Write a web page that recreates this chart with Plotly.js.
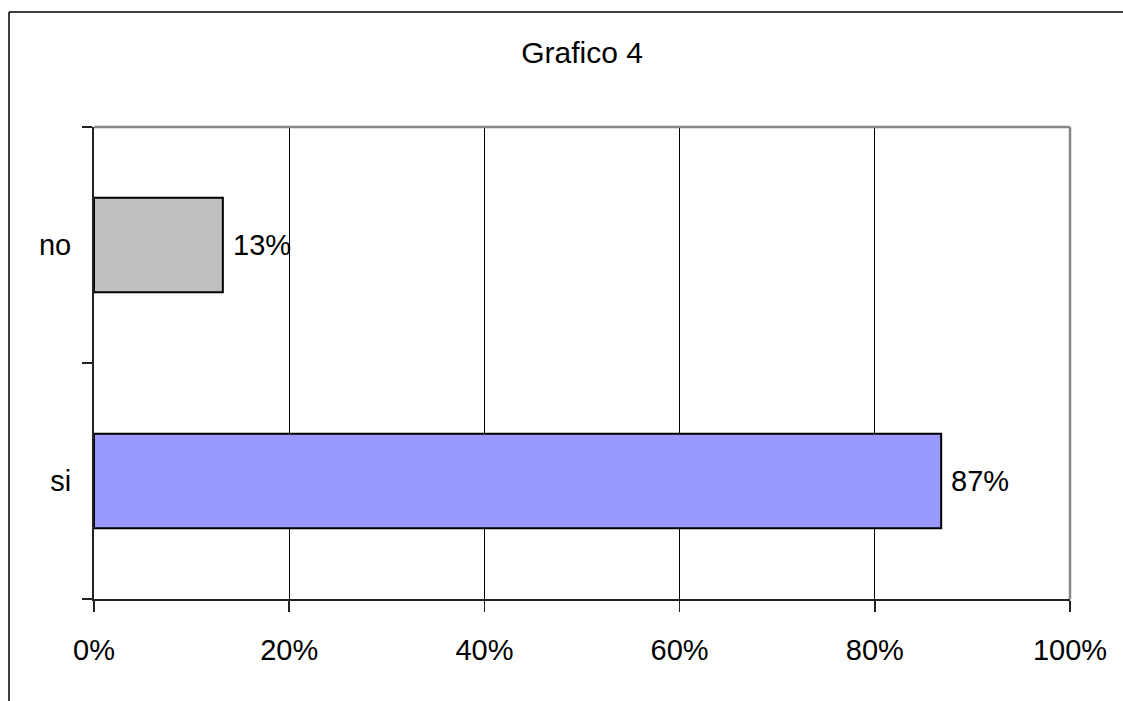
<!DOCTYPE html>
<html>
<head>
<meta charset="utf-8">
<script src="https://cdn.plot.ly/plotly-3.0.1.min.js"></script>
<style>
  html, body { margin: 0; padding: 0; background: #fff; }
  #chart { width: 1123px; height: 701px; }
</style>
</head>
<body>
<div id="chart"></div>
<script>
const categories = ["si", "no"];
const values = [0.868, 0.132];
const labels = ["87%", "13%"];
const barColors = ["#9999FF", "#C0C0C0"];
const xTicks = [0, 0.2, 0.4, 0.6, 0.8, 1.0];
const xTickText = ["0%", "20%", "40%", "60%", "80%", "100%"];

const FONT = "Liberation Sans, Arial, sans-serif";
const FS = 29;

const trace = {
  type: "bar",
  orientation: "h",
  y: categories,
  x: values,
  width: 0.4,
  marker: { color: barColors, line: { color: "#000", width: 2 } },
  hoverinfo: "skip"
};

const annotations = categories.map((c, i) => ({
  x: values[i], y: c, xref: "x", yref: "y",
  text: labels[i], showarrow: false,
  xanchor: "left", yanchor: "middle", xshift: 8,
  font: { family: FONT, size: FS, color: "#000" }
}));

const layout = {
  width: 1123, height: 701,
  margin: { l: 94, r: 53, t: 127, b: 102, pad: 0 },
  paper_bgcolor: "#fff", plot_bgcolor: "#fff",
  showlegend: false,
  title: {
    text: "Grafico 4",
    font: { family: FONT, size: 30, color: "#000" },
    x: 0.5, xanchor: "center", y: 0.925, yanchor: "middle", xref: "paper"
  },
  xaxis: {
    range: [0, 1],
    tickvals: xTicks, ticktext: xTickText,
    showgrid: true, gridcolor: "#000", gridwidth: 1,
    zeroline: false,
    showline: true, linecolor: "#222", linewidth: 2,
    ticks: "outside", ticklen: 11, tickcolor: "#222", tickwidth: 1.5,
    ticklabelstandoff: 13,
    tickfont: { family: FONT, size: FS, color: "#000" },
    fixedrange: true
  },
  yaxis: {
    type: "category",
    categoryorder: "array", categoryarray: categories,
    range: [-0.5, 1.5],
    showgrid: false, zeroline: false,
    showline: true, linecolor: "#222", linewidth: 2,
    ticks: "outside", tickson: "boundaries", ticklen: 10, tickcolor: "#222", tickwidth: 1.5,
    ticklabelstandoff: 15,
    tickfont: { family: FONT, size: FS, color: "#000" },
    fixedrange: true
  },
  annotations: annotations,
  shapes: [
    { type: "line", xref: "paper", yref: "paper", x0: 0, x1: 1, y0: 1, y1: 1,
      line: { color: "#888", width: 2.5 }, layer: "above" },
    { type: "line", xref: "paper", yref: "paper", x0: 1, x1: 1, y0: 0, y1: 1,
      line: { color: "#888", width: 2.5 }, layer: "above" },
    { type: "line", xref: "paper", yref: "paper", x0: -0.0871, x1: 1.06, y0: 1.2436, y1: 1.2436,
      line: { color: "#000", width: 1.5 } },
    { type: "line", xref: "paper", yref: "paper", x0: -0.0871, x1: -0.0871, y0: 1.2436, y1: -0.22,
      line: { color: "#000", width: 1.5 } }
  ]
};

Plotly.newPlot("chart", [trace], layout, { displayModeBar: false, staticPlot: true });
</script>
</body>
</html>
